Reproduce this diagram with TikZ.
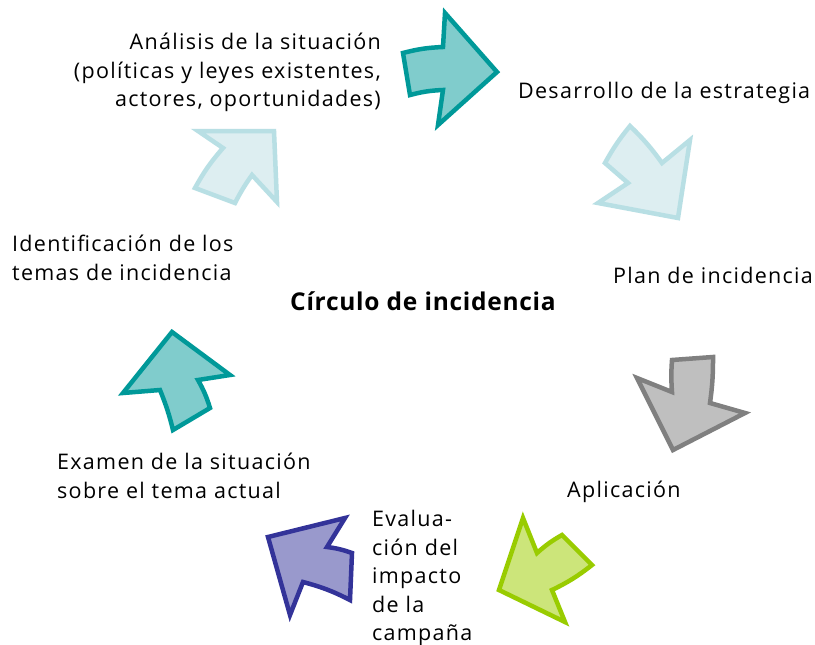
\documentclass[tikz,border=0pt]{standalone}
\usepackage{fontspec}
\setmainfont{Open Sans}[LetterSpace=6]
\newfontfamily\titlefont{Open Sans}[LetterSpace=3]
\definecolor{tealfill}{RGB}{128,204,204}
\definecolor{tealline}{RGB}{0,153,153}
\definecolor{lbfill}{RGB}{221,238,241}
\definecolor{lbline}{RGB}{184,223,228}
\definecolor{grfill}{RGB}{191,191,191}
\definecolor{grline}{RGB}{128,128,128}
\definecolor{gnfill}{RGB}{204,229,122}
\definecolor{gnline}{RGB}{153,204,0}
\definecolor{pufill}{RGB}{153,153,204}
\definecolor{puline}{RGB}{51,51,153}
\begin{document}
\begin{tikzpicture}[x=1pt,y=-1pt,
  arrowshape/.style={line width=4.5pt,line join=miter,miter limit=10},
  lbl/.style={inner sep=0pt,font=\fontsize{21.5}{28.5}\selectfont,align=left},
  lblr/.style={inner sep=0pt,font=\fontsize{21.5}{28.5}\selectfont,align=right},
  title/.style={inner sep=0pt,font=\titlefont\fontsize{24.5}{28}\selectfont\bfseries}]
\useasboundingbox[fill=white] (0,0) rectangle (815,645);
% arrows
\draw[arrowshape,fill=tealfill,draw=tealline] (403,53) to[bend left=6] (443,47) -- (445,13) -- (497,72) -- (438,125) -- (443,90) to[bend right=6] (410,95) -- cycle;
\draw[arrowshape,fill=lbfill,draw=lbline] (630,126) to[bend left=5] (662,163) -- (690,140) -- (678,218) -- (598,203) -- (628,183) -- (605,163) to[bend left=5] cycle;
\draw[arrowshape,fill=grfill,draw=grline] (672,360) -- (713,357) to[bend left=4] (710,403) -- (745,413) -- (673,450) -- (637,378) -- (672,392) to[bend left=4] cycle;
\draw[arrowshape,fill=gnfill,draw=gnline] (523,518) -- (537,553) to[bend left=6] (562,535) -- (592,565) to[bend left=6] (552,590) -- (565,622) -- (499,590) -- cycle;
\draw[arrowshape,fill=pufill,draw=puline] (268,537) -- (345,518) -- (327,547) to[bend left=6] (352,553) -- (350,600) to[bend right=6] (303,582) -- (290,615) -- cycle;
\draw[arrowshape,fill=tealfill,draw=tealline] (172,332) -- (230,375) -- (198,380) to[bend left=6] (210,408) -- (173,430) to[bend right=4] (160,390) -- (123,393) -- cycle;
\draw[arrowshape,fill=lbfill,draw=lbline] (198,131) -- (223,148) to[bend right=6] (195,188) -- (235,203) to[bend left=4] (252,175) -- (277,202) -- (274,131) -- cycle;
% labels
\node[lblr,anchor=north east] (analisis) at (381,33) {Análisis de la situación\\(políticas y leyes existentes,\\actores, oportunidades)};
\node[lbl,anchor=west] (desarrollo) at (518,93) {Desarrollo de la estrategia};
\node[lbl,anchor=west] (plan) at (613,275) {Plan de incidencia};
\node[title] (circulo) at (423,301) {Círculo de incidencia};
\node[lbl,anchor=north west] (identif) at (12,235) {Identificación de los\\temas de incidencia};
\node[lbl,anchor=north west] (examen) at (57,453) {Examen de la situación\\sobre el tema actual};
\node[lbl,anchor=west] (aplic) at (567,492) {Aplicación};
\node[lbl,anchor=north west] (eval) at (372,510) {Evalua-\\ción del\\impacto\\de la\\campaña};
\end{tikzpicture}
\end{document}
